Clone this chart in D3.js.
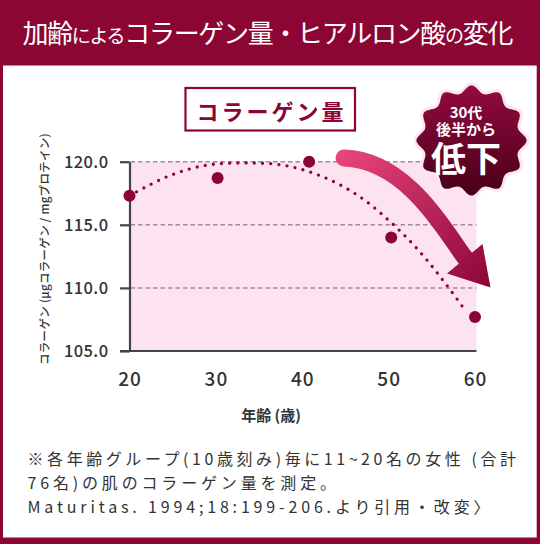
<!DOCTYPE html>
<html>
<head>
<meta charset="utf-8">
<script src="https://cdn.jsdelivr.net/npm/d3@7"></script>
<style>
  html, body { margin: 0; padding: 0; background: #fff; }
  svg { display: block; }
  text { font-family: "Noto Sans CJK JP", "Noto Sans", sans-serif; }
</style>
</head>
<body>
<svg id="chart" width="540" height="544"></svg>
<script>
// ---- data ----
const ages = [20, 30.2, 40.8, 50.3, 60];
const collagen = [117.3, 118.7, 120.0, 114.0, 107.7];
const trendAges = [20, 24.3, 28.7, 33.3, 38.0, 42.4, 46.5, 50.1, 53.3, 56.3, 59.0];
const trendValues = [117.3, 118.8, 119.7, 119.9, 119.7, 118.8, 117.3, 115.3, 113.1, 110.6, 108.1];
const xTicks = [20, 30, 40, 50, 60];
const yTicks = [105, 110, 115, 120];
const gridTicks = [110, 115, 120];

const titleParts = [
  { t: "加齢", big: true },
  { t: "による", big: false },
  { t: "コラーゲン量・ヒアルロン酸", big: true },
  { t: "の", big: false },
  { t: "変化", big: true }
];
const boxTitle = "コラーゲン量";
const badgeLines = ["30代", "後半から", "低下"];
const yAxisTitle = "コラーゲン (μgコラーゲン / mgプロテイン)";
const xAxisTitle = "年齢 (歳)";
const footnotes = [
  "※各年齢グループ(10歳刻み)毎に11~20名の女性 (合計",
  "76名)の肌のコラーゲン量を測定。",
  "Maturitas. 1994;18:199-206.より引用・改変〉"
];

// ---- drawing ----
const crimson = "#8b0632";
const svg = d3.select("#chart");
const defs = svg.append("defs");

// frame
svg.append("rect").attr("x", 0).attr("y", 0).attr("width", 540).attr("height", 544).attr("fill", crimson);
svg.append("rect").attr("x", 3).attr("y", 65.5).attr("width", 533.7).attr("height", 472).attr("fill", "#fff");

// title
const title = svg.append("text")
  .attr("x", 22.4).attr("y", 42.5)
  .attr("fill", "#fff")
  .attr("textLength", 491).attr("lengthAdjust", "spacing");
titleParts.forEach(p => {
  title.append("tspan").attr("font-size", p.big ? 26 : 19).text(p.t);
});

// boxed sub-title
svg.append("rect").attr("x", 185.5).attr("y", 88).attr("width", 169.5).attr("height", 42.5)
  .attr("fill", "none").attr("stroke", crimson).attr("stroke-width", 2.2);
svg.append("text").attr("x", 271.5).attr("y", 119.5).attr("text-anchor", "middle")
  .attr("font-size", 22).attr("font-weight", 700).attr("letter-spacing", 3)
  .attr("fill", crimson).text(boxTitle);

// scales
const x = d3.scaleLinear().domain([20, 60]).range([129.5, 475]);
const y = d3.scaleLinear().domain([105, 120]).range([351, 161.7]);

// plot background
svg.append("rect")
  .attr("x", x(20)).attr("y", y(120))
  .attr("width", x(60) + 1.5 - x(20)).attr("height", y(105) - y(120))
  .attr("fill", "#fde3f0");

// grid
svg.append("g").selectAll("line").data(gridTicks).join("line")
  .attr("x1", x(20) + 1).attr("x2", x(60) + 1.5)
  .attr("y1", d => y(d)).attr("y2", d => y(d))
  .attr("stroke", "#9a9094").attr("stroke-width", 1.5).attr("stroke-dasharray", "4.5 3");

// y axis
const yAxis = svg.append("g").attr("transform", `translate(${x(20)},0)`)
  .call(d3.axisLeft(y).tickValues(yTicks).tickFormat(d3.format(".1f"))
    .tickSize(9.5).tickSizeOuter(0).tickPadding(11.5));
yAxis.select(".domain").attr("stroke", "#444").attr("stroke-width", 2.2);
yAxis.selectAll(".tick line").attr("stroke", "#444").attr("stroke-width", 2.2);
yAxis.selectAll(".tick text")
  .attr("font-family", '"Noto Sans CJK JP", sans-serif')
  .attr("font-size", 16.5).attr("font-weight", 500).attr("letter-spacing", 0.4)
  .attr("fill", "#333").attr("dy", "0.34em");

// x axis
const xAxis = svg.append("g").attr("transform", `translate(0,${y(105)})`)
  .call(d3.axisBottom(x).tickValues(xTicks).tickFormat(d3.format("d"))
    .tickSize(0).tickPadding(22));
xAxis.select(".domain").remove();
xAxis.append("line").attr("x1", x(20) - 9.5).attr("x2", x(60) + 1.5)
  .attr("y1", 0).attr("y2", 0).attr("stroke", "#444").attr("stroke-width", 2.2);
xAxis.selectAll(".tick text")
  .attr("font-family", '"Noto Sans CJK JP", sans-serif')
  .attr("font-size", 19).attr("font-weight", 500).attr("letter-spacing", 1)
  .attr("fill", "#333");

// axis titles
svg.append("text")
  .attr("transform", "translate(49,249) rotate(-90)")
  .attr("text-anchor", "middle").attr("font-size", 11.5).attr("font-weight", 500)
  .attr("letter-spacing", 0.3)
  .attr("fill", "#333").text(yAxisTitle);
svg.append("text").attr("x", 271).attr("y", 420.5).attr("text-anchor", "middle")
  .attr("font-size", 15).attr("font-weight", 700).attr("fill", "#333").text(xAxisTitle);

// trend (dotted)
const trend = trendAges.map((a, i) => [a, trendValues[i]]);
svg.append("path")
  .attr("d", d3.line().x(d => x(d[0])).y(d => y(d[1])).curve(d3.curveCatmullRom)(trend))
  .attr("fill", "none").attr("stroke", "#8a0533").attr("stroke-width", 3.3)
  .attr("stroke-linecap", "round").attr("stroke-dasharray", "0 8.2");

// points
svg.append("g").selectAll("circle").data(ages.map((a, i) => [a, collagen[i]])).join("circle")
  .attr("cx", d => x(d[0])).attr("cy", d => y(d[1])).attr("r", 6)
  .attr("fill", "#8a0533");

// arrow
const ag = defs.append("linearGradient").attr("id", "arrowGrad")
  .attr("gradientUnits", "userSpaceOnUse")
  .attr("x1", 340).attr("y1", 150).attr("x2", 490).attr("y2", 287);
ag.append("stop").attr("offset", "0%").attr("stop-color", "#e9467d");
ag.append("stop").attr("offset", "100%").attr("stop-color", "#8c0638");
const shaft = d3.path();
shaft.moveTo(344, 158);
shaft.bezierCurveTo(410, 160, 450, 240, 466, 259);
svg.append("path").attr("d", shaft.toString())
  .attr("fill", "none").attr("stroke", "url(#arrowGrad)").attr("stroke-width", 17)
  .attr("stroke-linecap", "round");
const head = d3.path();
head.moveTo(447, 273.5);
head.lineTo(482.5, 244);
head.lineTo(490.5, 287.5);
head.closePath();
svg.append("path").attr("d", head.toString()).attr("fill", "url(#arrowGrad)");

// badge
const bg = defs.append("linearGradient").attr("id", "badgeGrad")
  .attr("x1", 0).attr("y1", 0).attr("x2", 0).attr("y2", 1);
bg.append("stop").attr("offset", "0%").attr("stop-color", "#930b3f");
bg.append("stop").attr("offset", "100%").attr("stop-color", "#470019");
const angles = d3.range(0, 240).map(i => i / 240 * 2 * Math.PI);
const badgePath = d3.lineRadial()
  .angle(a => a).radius(a => 53 + 3.6 * Math.cos(12 * a))
  .curve(d3.curveLinearClosed)(angles);
svg.append("path").attr("transform", "translate(471.5,140.5)").attr("d", badgePath)
  .attr("fill", "url(#badgeGrad)").attr("stroke", "#fde6f0").attr("stroke-width", 3);
const badgeSmall = svg.append("text").attr("text-anchor", "middle")
  .attr("font-size", 15).attr("font-weight", 700).attr("fill", "#fff");
badgeSmall.append("tspan").attr("x", 466).attr("y", 117.5).text(badgeLines[0]);
badgeSmall.append("tspan").attr("x", 466).attr("y", 135).text(badgeLines[1]);
svg.append("text").attr("x", 466).attr("y", 171.5).attr("text-anchor", "middle")
  .attr("font-size", 35).attr("font-weight", 700).attr("fill", "#fff").text(badgeLines[2]);

// footnotes
const footW = [488.5, 308.5, 462];
footnotes.forEach((t, i) => {
  svg.append("text").attr("x", 27.5).attr("y", 464.5 + i * 24.3)
    .attr("font-size", 16).attr("fill", "#333")
    .attr("textLength", footW[i]).attr("lengthAdjust", "spacing")
    .text(t);
});
</script>
</body>
</html>
